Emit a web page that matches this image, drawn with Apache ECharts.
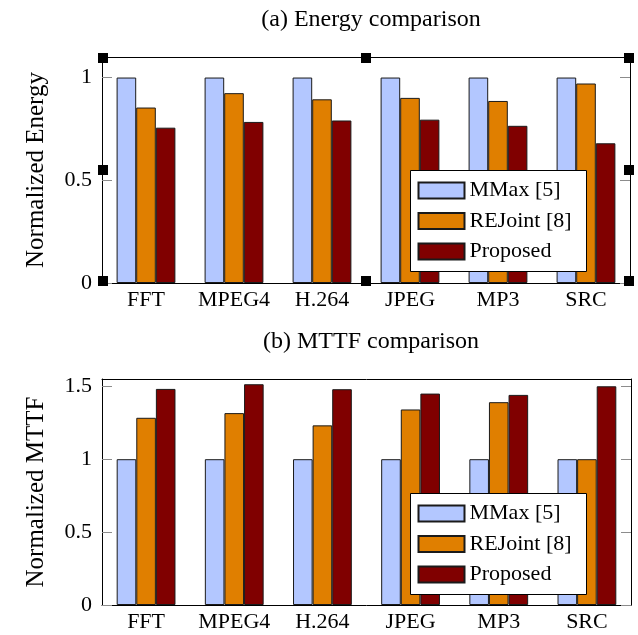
<!DOCTYPE html>
<html>
<head>
<meta charset="utf-8">
<script src="https://cdn.jsdelivr.net/npm/echarts@6/dist/echarts.min.js"></script>
<style>
html,body{margin:0;padding:0;background:#fff;}
#chart{width:638px;height:635px;}
</style>
</head>
<body>
<div id="chart"></div>
<script>
const categories = ['FFT', 'MPEG4', 'H.264', 'JPEG', 'MP3', 'SRC'];
const seriesNames = ['MMax [5]', 'REJoint [8]', 'Proposed'];
const energyMMax = [1, 1, 1, 1, 1, 1];
const energyREJoint = [0.854, 0.924, 0.894, 0.901, 0.886, 0.971];
const energyProposed = [0.756, 0.784, 0.791, 0.795, 0.765, 0.680];
const mttfMMax = [1, 1, 1, 1, 1, 1];
const mttfREJoint = [1.284, 1.316, 1.232, 1.341, 1.391, 1.0];
const mttfProposed = [1.482, 1.514, 1.480, 1.450, 1.441, 1.500];
const energyTicks = [0, 0.5, 1];
const mttfTicks = [0, 0.5, 1, 1.5];
const titles = ['(a) Energy comparison', '(b) MTTF comparison'];
const yNames = ['Normalized Energy', 'Normalized MTTF'];

const FONT = 'Liberation Serif';
const FS = 22;
const colors = ['#b3c7ff', '#e07f00', '#800000'];
const tickColor = '#8c8c8c';

const grids = [
  {left: 102, top: 57, width: 528, height: 226},
  {left: 102, top: 379, width: 529, height: 226}
];
const yMax = [1.1, 1.55];
const yTicks = [energyTicks, mttfTicks];

const xAxes = [], yAxes = [];
grids.forEach((g, i) => {
  xAxes.push({
    type: 'category', gridIndex: i, data: categories, position: 'bottom',
    axisLine: {onZero: false, lineStyle: {color: '#000', width: 1}},
    axisTick: {inside: true, length: 10, alignWithLabel: true, interval: 0, lineStyle: {color: tickColor}},
    axisLabel: {interval: 0, hideOverlap: false, fontFamily: FONT, fontSize: FS, color: '#000', margin: 6}
  });
  xAxes.push({
    type: 'category', gridIndex: i, data: categories, position: 'top',
    axisLine: {onZero: false, lineStyle: {color: '#000', width: 1}},
    axisTick: {inside: true, length: 10, alignWithLabel: true, interval: 0, lineStyle: {color: tickColor}},
    axisLabel: {show: false, interval: 0}
  });
  yAxes.push({
    type: 'value', gridIndex: i, min: 0, max: yMax[i], position: 'left',
    name: yNames[i], nameLocation: 'middle', nameGap: 53,
    nameTextStyle: {fontFamily: FONT, fontSize: 25, color: '#000'},
    axisLine: {show: true, onZero: false, lineStyle: {color: '#000', width: 1}},
    axisTick: {show: true, inside: true, length: 10, customValues: yTicks[i], lineStyle: {color: tickColor}},
    axisLabel: {customValues: yTicks[i], fontFamily: FONT, fontSize: FS, color: '#000', margin: 10},
    splitLine: {show: false}
  });
  yAxes.push({
    type: 'value', gridIndex: i, min: 0, max: yMax[i], position: 'right',
    axisLine: {show: true, onZero: false, lineStyle: {color: '#000', width: 1}},
    axisTick: {show: true, inside: true, length: 10, customValues: yTicks[i], lineStyle: {color: tickColor}},
    axisLabel: {show: false},
    splitLine: {show: false}
  });
});

const dataSets = [[energyMMax, energyREJoint, energyProposed], [mttfMMax, mttfREJoint, mttfProposed]];
const series = [];
dataSets.forEach((set, i) => {
  set.forEach((vals, k) => {
    series.push({
      type: 'bar', name: seriesNames[k], data: vals,
      xAxisIndex: i * 2, yAxisIndex: i * 2,
      barWidth: 19.6, barGap: '0%',
      itemStyle: {color: colors[k], borderColor: '#1a1a1a', borderWidth: 1},
      emphasis: {disabled: true},
      animation: false
    });
  });
});

const legendBoxes = [
  {x: 410.5, y: 170.5, w: 176, h: 101},
  {x: 410.5, y: 493.5, w: 176, h: 101}
];
const legends = legendBoxes.map(b => ({
  orient: 'vertical', left: b.x + 7, top: b.y + 9, padding: 0,
  itemWidth: 46, itemHeight: 16, itemGap: 8.5, icon: 'rect',
  data: seriesNames, selectedMode: false, z: 10,
  textStyle: {fontFamily: FONT, fontSize: FS, color: '#000', lineHeight: 22}
}));

const graphics = [];
legendBoxes.forEach(b => {
  graphics.push({type: 'rect', z: 5, shape: {x: b.x, y: b.y, width: b.w, height: b.h},
    style: {fill: '#fff', stroke: '#000', lineWidth: 1}});
});
const sq = [[103,58],[366,58],[629,58],[103,170],[629,170],[103,281],[366,281],[629,281]];
sq.forEach(p => {
  graphics.push({type: 'rect', z: 100, shape: {x: p[0] - 5, y: p[1] - 5, width: 10, height: 10},
    style: {fill: '#000'}});
});

const chart = echarts.init(document.getElementById('chart'), null, {renderer: 'canvas'});
chart.setOption({
  animation: false,
  backgroundColor: '#fff',
  title: [
    {text: titles[0], left: 366, top: 3, textAlign: 'center',
     textStyle: {fontFamily: FONT, fontSize: 24, fontWeight: 'normal', color: '#000'}},
    {text: titles[1], left: 366, top: 325, textAlign: 'center',
     textStyle: {fontFamily: FONT, fontSize: 24, fontWeight: 'normal', color: '#000'}}
  ],
  grid: grids,
  xAxis: xAxes,
  yAxis: yAxes,
  legend: legends,
  series: series,
  graphic: graphics
});
</script>
</body>
</html>
